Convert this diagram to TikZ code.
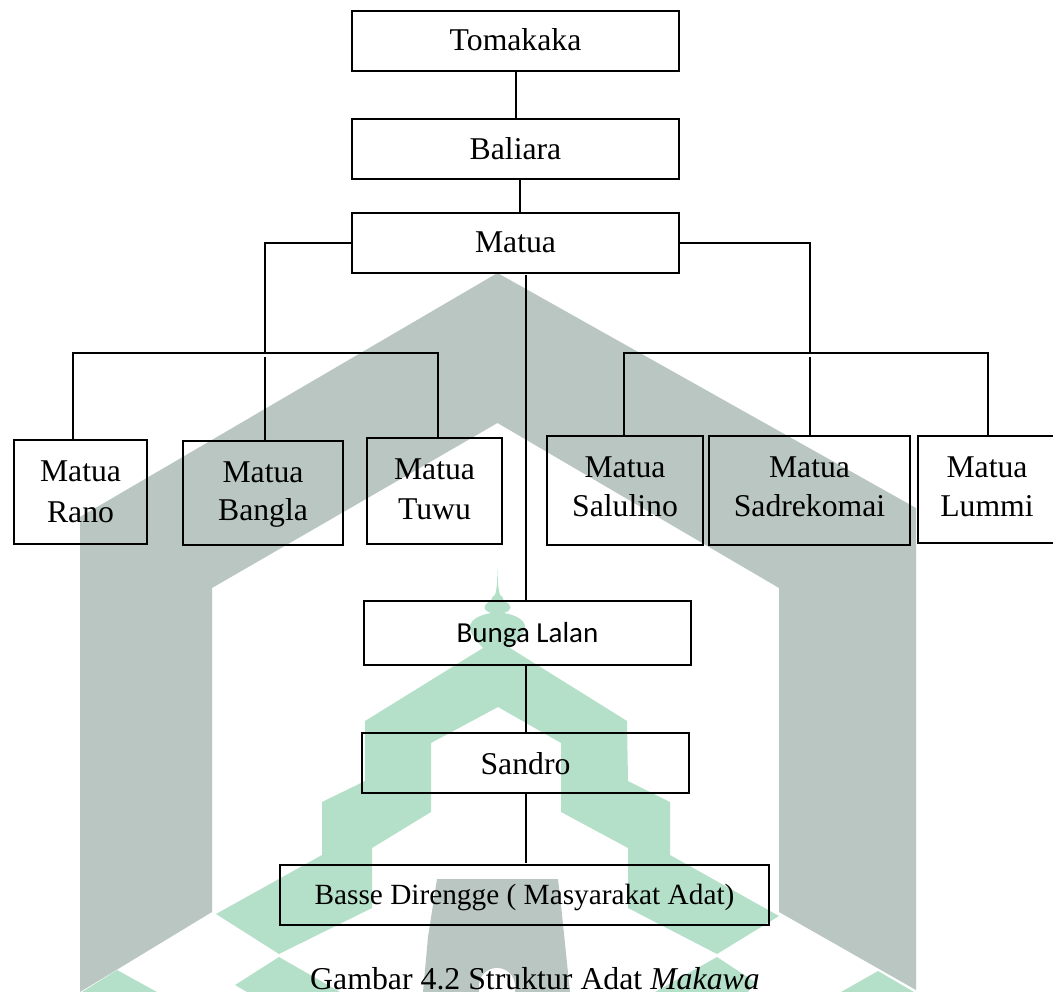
\documentclass[tikz,border=0pt]{standalone}
\usepackage{fontspec}
\setmainfont{Liberation Serif}
\newfontfamily\calibrifont{Carlito}
\definecolor{wmgray}{HTML}{B9C6C1}
\definecolor{wmgreen}{HTML}{B4E0C9}
\tikzset{
  orgbox/.style={draw=black,line width=1.3pt,inner sep=0pt,outer sep=0pt,align=center,text=black,
    font=\fontsize{31.7}{39}\selectfont},
  wire/.style={draw=black,line width=1.3pt},
  wmg/.style={fill=wmgray,draw=none},
  wmv/.style={fill=wmgreen,draw=none}
}
\begin{document}
\begin{tikzpicture}[x=1pt,y=-1pt]
\clip (0,0) rectangle (1053,992);
% watermark
\path[wmg] (80,992) -- (80,517) -- (497.5,273) -- (916,508) -- (916,990) -- (779,912) -- (779,588) -- (497.5,423) -- (212,588) -- (212,912) -- cycle;
\path[wmg] (437,879) -- (558,879) -- (561,905) -- (570,992) -- (423,992) -- (428,937) -- cycle;
\path[fill=white] (497,986) circle (18);
\path[fill=white] (479,986) rectangle (515,992);
\path[wmv] (497.5,569) .. controls (497.8,585) and (498.5,590) .. (500,595)
  .. controls (503,597) and (504,599) .. (503.5,601)
  .. controls (510,603) and (511,607) .. (510,609)
  .. controls (509,611) and (507,612) .. (504,613)
  .. controls (516,615) and (525,620) .. (525,627)
  .. controls (525,635) and (515,642) .. (510,648)
  -- (627,721) -- (628,781) -- (670,802) -- (670,855) -- (779,916) -- (717,954) -- (628,908) -- (628,848) -- (561,812) -- (561,743) -- (498,707) -- (431,743) -- (431,812) -- (372,848) -- (372,908) -- (279,954) -- (216,914) -- (322,855) -- (322,802) -- (365,781) -- (365,721) -- (483,648)
  .. controls (478,642) and (470,635) .. (470,627)
  .. controls (470,620) and (479,615) .. (491,613)
  .. controls (488,612) and (486,611) .. (485,609)
  .. controls (484,607) and (485,603) .. (491,601)
  .. controls (491,599) and (492,597) .. (495,595)
  .. controls (496.5,590) and (497.2,585) .. (497.5,569) -- cycle;
\path[wmv] (279,957) -- (235,985) -- (247,992) -- (340,992) -- cycle;
\path[wmv] (717,957) -- (655,992) -- (748,992) -- (755,982) -- cycle;
\path[wmv] (117,970) -- (82,992) -- (157,992) -- cycle;
\path[wmv] (878,971) -- (841,992) -- (914,992) -- cycle;
% boxes
\node[orgbox,minimum width=327pt,minimum height=60pt,text depth=2pt] (tom) at (515.5,41) {Tomakaka};
\node[orgbox,minimum width=327pt,minimum height=60pt,text depth=1pt] (bal) at (515.5,149) {Baliara};
\node[orgbox,minimum width=327pt,minimum height=60pt,text depth=2pt] (mat) at (515.5,243) {Matua};
\node[orgbox,minimum width=133pt,minimum height=104pt,text depth=0pt] (rano) at (80.5,492) {Matua\\[2pt]Rano};
\node[orgbox,minimum width=160pt,minimum height=104pt,text depth=4pt] (bangla) at (263,493) {Matua\\[-1.5pt]Bangla};
\node[orgbox,minimum width=135pt,minimum height=106pt,text depth=4pt] (tuwu) at (434.5,491) {Matua\\[0.5pt]Tuwu};
\node[orgbox,minimum width=156pt,minimum height=109pt,text depth=7pt] (salu) at (625,490.5) {Matua\\Salulino};
\node[orgbox,minimum width=201pt,minimum height=109pt,text depth=7pt] (sadre) at (809.5,490.5) {Matua\\Sadrekomai};
\node[orgbox,minimum width=138pt,minimum height=107pt,text depth=5pt] (lummi) at (987,489.5) {Matua\\Lummi};
\node[orgbox,font=\calibrifont\fontsize{29}{34}\selectfont,minimum width=327pt,minimum height=64pt,text depth=2pt] (bunga) at (527.5,633) {Bunga Lalan};
\node[orgbox,minimum width=327pt,minimum height=60pt,text depth=0pt] (sandro) at (525.5,763) {Sandro};
\node[orgbox,font=\fontsize{29.3}{34}\selectfont,minimum width=489pt,minimum height=60pt,text depth=2pt] (basse) at (524.5,895) {Basse Direngge ( Masyarakat Adat)};
\node[anchor=base,inner sep=0pt,text=black,font=\fontsize{31.8}{38}\selectfont] (cap) at (535,989) {Gambar 4.2 Struktur Adat \textit{Makawa}};
% helper coordinates
\coordinate (xa) at (516,0);
\coordinate (xb) at (520,0);
\coordinate (spine) at (526,0);
\coordinate (jl) at (265,353);
\coordinate (jl2) at (265,357);
\coordinate (bl) at (73,353);
\coordinate (br) at (438,353);
\coordinate (jr) at (810,353);
\coordinate (jr2) at (810,357);
\coordinate (cl) at (624,353);
\coordinate (cr) at (988,353);
% connectors
\draw[wire] (tom.south -| xa) -- (bal.north -| xa);
\draw[wire] (bal.south -| xb) -- (mat.north -| xb);
\draw[wire] (mat.west) -| (jl);
\draw[wire] (mat.east) -| (jr);
\draw[wire] (rano.north -| bl) -- (bl) -- (br) -- (tuwu.north -| br);
\draw[wire] (jl2) -- (jl2 |- bangla.north);
\draw[wire] (salu.north -| cl) -- (cl) -- (cr) -- (lummi.north -| cr);
\draw[wire] (jr2) -- (jr2 |- sadre.north);
\draw[wire] ([yshift=-2pt]mat.south -| spine) -- (bunga.north -| spine);
\draw[wire] (bunga.south -| spine) -- (sandro.north -| spine);
\draw[wire] (sandro.south -| spine) -- ([yshift=2pt]basse.north -| spine);
\end{tikzpicture}
\end{document}
